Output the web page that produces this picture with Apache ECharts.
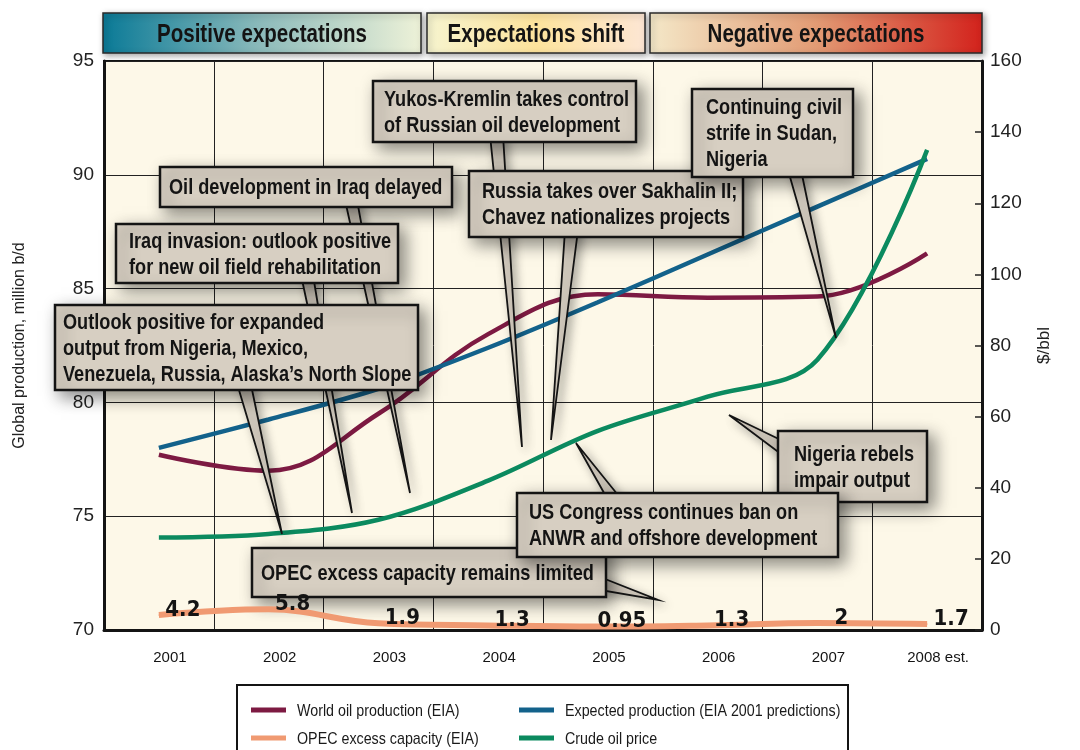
<!DOCTYPE html>
<html>
<head>
<meta charset="utf-8">
<script src="https://cdn.jsdelivr.net/npm/echarts@6/dist/echarts.min.js"></script>
<style>
  html, body { margin: 0; padding: 0; background: #ffffff; }
  #chart { width: 1080px; height: 750px; }
</style>
</head>
<body>
<div id="chart"></div>
<script>
// ---- data ----
const years = ['2001', '2002', '2003', '2004', '2005', '2006', '2007', '2008 est.'];
const worldProduction = [77.7, 77.0, 79.5, 83.0, 84.75, 84.6, 84.65, 86.55];      // million b/d
const expectedProduction = [78.0, 79.25, 80.6, 82.4, 84.4, 86.5, 88.6, 90.7];     // million b/d
const opecCapacity = [4.2, 5.8, 1.9, 1.3, 0.95, 1.3, 2, 1.7];                      // million b/d
const crudePrice = [26, 27, 31, 42, 56, 65.6, 76, 135];                            // $/bbl
const productionTicks = [70, 75, 80, 85, 90, 95];
const priceTicks = [0, 20, 40, 60, 80, 100, 120, 140, 160];

const SANS = "'Liberation Sans', Arial, Helvetica, sans-serif";
const COND = "'DejaVu Sans Condensed', 'Liberation Sans', sans-serif";
const BOX_FILL = '#d7cfc2';
const INK = '#141414';

const seriesColors = {
  world: '#7d1a42',
  expected: '#13628b',
  opec: '#f09a72',
  crude: '#0b8a5f'
};

// ---- header bands ----
const bands = [
  { x: 103, w: 318, text: 'Positive expectations',
    stops: [[0, '#0a7a97'], [0.5, '#8dbbbb'], [1, '#eef2d8']] },
  { x: 427, w: 218, text: 'Expectations shift',
    stops: [[0, '#f6f4cf'], [0.5, '#fde39c'], [1, '#fde6d4']] },
  { x: 650, w: 332, text: 'Negative expectations',
    stops: [[0, '#f4e8c8'], [0.5, '#e29b74'], [1, '#d3221c']] }
];

// ---- callouts ----
const notes = [
  { box: [160, 167, 292, 40], lines: ['Oil development in Iraq delayed'], pad: 9,
    base: [[345, 200], [357, 200]], tip: [410, 493] },
  { box: [116, 224, 282, 59], lines: ['Iraq invasion: outlook positive', 'for new oil field rehabilitation'], pad: 13,
    base: [[301, 275], [313, 275]], tip: [352, 513] },
  { box: [55, 305, 363, 85], lines: ['Outlook positive for expanded', 'output from Nigeria, Mexico,', 'Venezuela, Russia, Alaska\u2019s North Slope'], pad: 8,
    base: [[236, 380], [250, 380]], tip: [282, 534] },
  { box: [373, 81, 263, 61], lines: ['Yukos-Kremlin takes control', 'of Russian oil development'], pad: 11,
    base: [[490, 135], [503, 135]], tip: [522, 447] },
  { box: [469, 171, 274, 66], lines: ['Russia takes over Sakhalin II;', 'Chavez nationalizes projects'], pad: 13,
    base: [[565, 230], [578, 230]], tip: [551, 440] },
  { box: [692, 89, 161, 88], lines: ['Continuing civil', 'strife in Sudan,', 'Nigeria'], pad: 14,
    base: [[788, 170], [801, 170]], tip: [836, 338] },
  { box: [778, 431, 149, 71], lines: ['Nigeria rebels', 'impair output'], pad: 16,
    base: [[785, 442], [785, 457]], tip: [729, 415] },
  { box: [252, 548, 354, 49], lines: ['OPEC excess capacity remains limited'], pad: 9,
    base: [[600, 577], [600, 590]], tip: [658, 600] },
  { box: [517, 493, 321, 64], lines: ['US Congress continues ban on', 'ANWR and offshore development'], pad: 12,
    base: [[608, 500], [622, 500]], tip: [576, 443] }
];

// ---- legend entries (two columns) ----
const legendItems = [
  { name: 'World oil production (EIA)', color: seriesColors.world, x: 251, y: 710 },
  { name: 'OPEC excess capacity (EIA)', color: seriesColors.opec, x: 251, y: 738 },
  { name: 'Expected production (EIA 2001 predictions)', color: seriesColors.expected, x: 519, y: 710 },
  { name: 'Crude oil price', color: seriesColors.crude, x: 519, y: 738 }
];

const graphics = [];

bands.forEach(function (b) {
  graphics.push({
    type: 'rect', z: 20,
    shape: { x: b.x, y: 13, width: b.w, height: 40 },
    style: {
      fill: new echarts.graphic.LinearGradient(0, 0, 1, 0,
        b.stops.map(function (s) { return { offset: s[0], color: s[1] }; })),
      stroke: '#2a2a2a', lineWidth: 1.5,
      shadowBlur: 6, shadowOffsetX: 2, shadowOffsetY: 2, shadowColor: 'rgba(0,0,0,0.35)'
    }
  });
  graphics.push({
    type: 'text', z: 21, x: b.x + b.w / 2, y: 35, scaleX: 0.79,
    style: { text: b.text, fill: INK, font: 'bold 26px ' + SANS,
      textAlign: 'center', textVerticalAlign: 'middle' }
  });
});

let zc = 30;
notes.forEach(function (n) {
  const bx = n.box[0], by = n.box[1], bw = n.box[2], bh = n.box[3];
  graphics.push({
    type: 'polygon', z: zc++,
    shape: { points: [n.base[0], n.tip, n.base[1]] },
    style: { fill: BOX_FILL, stroke: INK, lineWidth: 1.8,
      shadowBlur: 10, shadowOffsetX: 4, shadowOffsetY: 4, shadowColor: 'rgba(0,0,0,0.3)' }
  });
  graphics.push({
    type: 'rect', z: zc++,
    shape: { x: bx, y: by, width: bw, height: bh },
    style: { fill: BOX_FILL, stroke: INK, lineWidth: 2.5,
      shadowBlur: 16, shadowOffsetX: 6, shadowOffsetY: 6, shadowColor: 'rgba(0,0,0,0.45)' }
  });
  graphics.push({
    type: 'text', z: zc++, x: bx + n.pad, y: by + bh / 2 + 1, scaleX: 0.825,
    style: { text: n.lines.join('\n'), fill: INK, font: 'bold 22px ' + SANS,
      lineHeight: 26, textAlign: 'left', textVerticalAlign: 'middle' }
  });
});

// legend frame and entries
graphics.push({
  type: 'rect', z: 1,
  shape: { x: 237, y: 685, width: 611, height: 80 },
  style: { fill: '#ffffff', stroke: INK, lineWidth: 2 }
});
legendItems.forEach(function (it) {
  graphics.push({
    type: 'rect', z: 2,
    shape: { x: it.x, y: it.y - 2.5, width: 35, height: 5 },
    style: { fill: it.color }
  });
  graphics.push({
    type: 'text', z: 2, x: it.x + 46, y: it.y + 1, scaleX: 0.84,
    style: { text: it.name, fill: '#1a1a1a', font: '17px ' + SANS,
      textAlign: 'left', textVerticalAlign: 'middle' }
  });
});

const option = {
  animation: false,
  backgroundColor: '#ffffff',
  grid: {
    left: 104, right: 98, top: 61, bottom: 120,
    show: true, backgroundColor: '#fdf8e8', borderColor: INK, borderWidth: 2
  },
  xAxis: {
    type: 'category', data: years, boundaryGap: true,
    axisLine: { lineStyle: { color: INK, width: 3 } },
    axisTick: { show: false },
    splitLine: { show: true, lineStyle: { color: '#222', width: 1 } },
    axisLabel: { fontFamily: SANS, fontSize: 15, color: INK, margin: 20, padding: [0, 0, 0, 22] }
  },
  yAxis: [
    {
      type: 'value', position: 'left',
      min: productionTicks[0], max: productionTicks[productionTicks.length - 1],
      interval: productionTicks[1] - productionTicks[0],
      axisLine: { show: true, lineStyle: { color: INK, width: 3 } },
      axisTick: { show: false },
      splitLine: { show: true, lineStyle: { color: '#222', width: 1 } },
      axisLabel: { fontFamily: SANS, fontSize: 19, color: '#222', margin: 10 },
      name: 'Global production, million b/d', nameLocation: 'middle', nameRotate: 90, nameGap: 76,
      nameTextStyle: { fontFamily: SANS, fontSize: 16, color: '#222' }
    },
    {
      type: 'value', position: 'right',
      min: priceTicks[0], max: priceTicks[priceTicks.length - 1],
      interval: priceTicks[1] - priceTicks[0],
      axisLine: { show: true, lineStyle: { color: INK, width: 3 } },
      axisTick: { show: true, inside: true, length: 7, lineStyle: { color: '#222', width: 1.5 } },
      splitLine: { show: false },
      axisLabel: { fontFamily: SANS, fontSize: 19, color: '#222', margin: 8 },
      name: '$/bbl', nameLocation: 'middle', nameRotate: 90, nameGap: 54,
      nameTextStyle: { fontFamily: SANS, fontSize: 17, color: '#222' }
    }
  ],
  series: [
    {
      name: 'World oil production (EIA)', type: 'line', yAxisIndex: 0,
      data: worldProduction, smooth: 0.4, showSymbol: false, z: 3,
      itemStyle: { color: seriesColors.world }, lineStyle: { color: seriesColors.world, width: 4.5 }
    },
    {
      name: 'Expected production (EIA 2001 predictions)', type: 'line', yAxisIndex: 0,
      data: expectedProduction, smooth: 0.3, showSymbol: false, z: 3,
      itemStyle: { color: seriesColors.expected }, lineStyle: { color: seriesColors.expected, width: 4.5 }
    },
    {
      // drawn above the callout layer so its value labels stay readable
      name: 'OPEC excess capacity (EIA)', type: 'line', yAxisIndex: 1,
      data: opecCapacity, smooth: 0.4, symbol: 'circle', symbolSize: 1, z: 80,
      itemStyle: { color: seriesColors.opec }, lineStyle: { color: seriesColors.opec, width: 6 },
      label: { show: true, position: 'inside', offset: [24, -5],
        fontFamily: COND, fontSize: 22, fontWeight: 'bold', color: INK,
        formatter: function (p) { return String(p.value); } }
    },
    {
      name: 'Crude oil price', type: 'line', yAxisIndex: 1,
      data: crudePrice, smooth: 0.35, showSymbol: false, z: 3,
      itemStyle: { color: seriesColors.crude }, lineStyle: { color: seriesColors.crude, width: 4.5 }
    }
  ],
  graphic: { elements: graphics }
};

const chart = echarts.init(document.getElementById('chart'), null, { renderer: 'canvas' });
chart.setOption(option);
</script>
</body>
</html>
